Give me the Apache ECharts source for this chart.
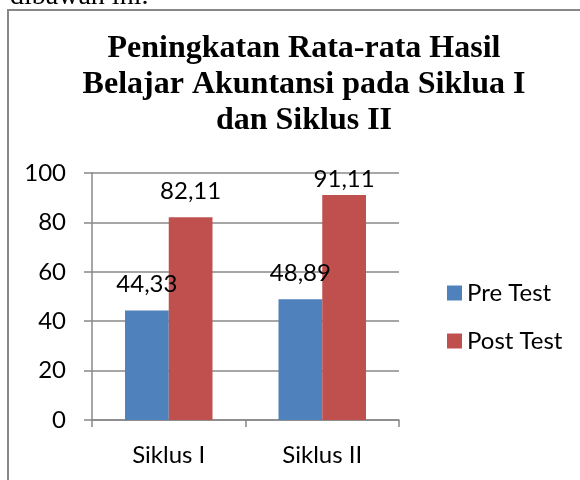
<!DOCTYPE html>
<html>
<head>
<meta charset="utf-8">
<script src="https://cdn.jsdelivr.net/npm/echarts@6/dist/echarts.min.js"></script>
<style>
  html, body { margin: 0; padding: 0; background: #fff; }
  #chart { width: 580px; height: 480px; }
</style>
</head>
<body>
<div id="chart"></div>
<script>
// data
const categories = ['Siklus I', 'Siklus II'];
const preTest = [44.33, 48.89];
const postTest = [82.11, 91.11];
const seriesNames = ['Pre Test', 'Post Test'];
const yTicks = [0, 20, 40, 60, 80, 100];

const chartTitle = 'Peningkatan Rata-rata Hasil\nBelajar Akuntansi pada Siklua I\ndan Siklus II';
const txtFont = 'Lato';

function fmt(v) {
  return v.toFixed(2).replace('.', ',');
}

// Excel pushes the label down when it would leave the chart
function barData(values) {
  return values.map(v => ({
    value: v,
    label: { distance: v > 90 ? 4 : 14 }
  }));
}

const myChart = echarts.init(document.getElementById('chart'));
myChart.setOption({
  backgroundColor: '#fff',
  animation: false,
  title: {
    text: chartTitle,
    left: 299,
    top: 26,
    textAlign: 'center',
    textStyle: {
      fontFamily: 'Liberation Serif',
      fontWeight: 'bold',
      fontSize: 32,
      lineHeight: 36,
      color: '#000'
    }
  },
  graphic: [
    {
      type: 'text',
      left: 10,
      top: -17,
      style: { text: 'dibawah ini.', font: '28px "Liberation Serif"', fill: '#000' }
    },
    {
      type: 'polyline',
      shape: { points: [[8, 480], [8, 10], [580, 10]] },
      style: { stroke: '#888', lineWidth: 2, fill: null }
    }
  ],
  legend: {
    orient: 'vertical',
    left: 442,
    top: 276,
    itemWidth: 15,
    itemHeight: 15,
    itemGap: 24,
    icon: 'rect',
    data: seriesNames,
    textStyle: { fontFamily: txtFont, fontSize: 24, color: '#000' }
  },
  grid: {
    left: 92,
    right: 181,
    top: 173,
    bottom: 60
  },
  xAxis: {
    type: 'category',
    data: categories,
    axisLine: { lineStyle: { color: '#888', width: 1.5 } },
    axisTick: { show: true, length: 7, lineStyle: { color: '#888', width: 1.5 } },
    axisLabel: { margin: 23, fontFamily: txtFont, fontSize: 24, color: '#000' }
  },
  yAxis: {
    type: 'value',
    min: yTicks[0],
    max: yTicks[yTicks.length - 1],
    interval: yTicks[1] - yTicks[0],
    axisLine: { show: true, lineStyle: { color: '#888', width: 1.5 } },
    axisTick: { show: true, length: 8, lineStyle: { color: '#888', width: 1.5 } },
    splitLine: { lineStyle: { color: '#888', width: 1.5 } },
    axisLabel: { margin: 26, fontFamily: txtFont, fontSize: 24, color: '#000' }
  },
  series: [
    {
      name: seriesNames[0],
      type: 'bar',
      data: barData(preTest),
      barGap: '0%',
      barCategoryGap: '43%',
      itemStyle: { color: '#4F81BD' },
      label: {
        show: true,
        position: 'top',
        formatter: p => fmt(p.value),
        fontFamily: txtFont,
        fontSize: 24,
        color: '#000'
      }
    },
    {
      name: seriesNames[1],
      type: 'bar',
      data: barData(postTest),
      barGap: '0%',
      barCategoryGap: '43%',
      itemStyle: { color: '#C0504D' },
      label: {
        show: true,
        position: 'top',
        formatter: p => fmt(p.value),
        fontFamily: txtFont,
        fontSize: 24,
        color: '#000'
      }
    }
  ]
});
</script>
</body>
</html>
